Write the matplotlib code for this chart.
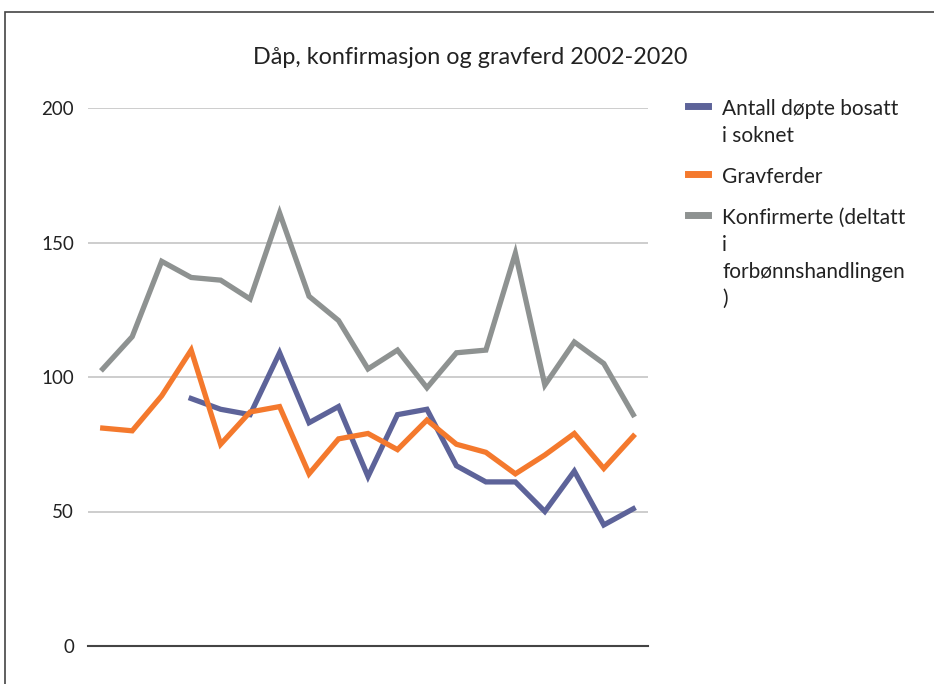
import matplotlib
matplotlib.use("Agg")
import matplotlib.pyplot as plt
from matplotlib.patches import Rectangle

# ==========================================
# DATA
# ==========================================
years = list(range(2002, 2021))

dopte = [None, None, None, 92, 88, 86, 109, 83, 89, 63,
         86, 88, 67, 61, 61, 50, 65, 45, 51]
gravferder = [81, 80, 93, 110, 75, 87, 89, 64, 77, 79,
              73, 84, 75, 72, 64, 71, 79, 66, 78]
konfirmerte = [103, 115, 143, 137, 136, 129, 161, 130, 121, 103,
               110, 96, 109, 110, 146, 97, 113, 105, 86]

labels = ["Antall døpte bosatt\ni soknet",
          "Gravferder",
          "Konfirmerte (deltatt\ni\nforbønnshandlingen\n)"]
yticks = [0, 50, 100, 150, 200]
title = "Dåp, konfirmasjon og gravferd 2002-2020"

# ==========================================
# PLOT
# ==========================================
plt.rcParams['font.family'] = ['Lato', 'DejaVu Sans']

fig = plt.figure(figsize=(9.34, 6.84), dpi=100)
ax = fig.add_axes([88 / 934, 1 - 646 / 684, 560 / 934, 538 / 684])

x = list(range(len(years)))
d_x = [i for i, v in zip(x, dopte) if v is not None]
d_y = [v for v in dopte if v is not None]

ax.plot(d_x, d_y, color='#5d6399', lw=3.8, label=labels[0], solid_joinstyle='miter')
ax.plot(x, gravferder, color='#f4792d', lw=3.8, label=labels[1], solid_joinstyle='miter')
ax.plot(x, konfirmerte, color='#8e9291', lw=3.8, label=labels[2], solid_joinstyle='miter')

ax.set_xlim(-0.5, len(years) - 0.5)
ax.set_ylim(0, 200)
ax.set_yticks(yticks)
ax.set_xticks([])
ax.tick_params(axis='y', length=0, pad=10, labelsize=13.5, colors='#222222')
for s in ['top', 'right', 'left']:
    ax.spines[s].set_visible(False)
ax.spines['bottom'].set_color('#444444')
ax.spines['bottom'].set_linewidth(1.5)
ax.grid(axis='y', color='#c9c9c9', lw=1.3)
ax.set_axisbelow(True)

fig.text(0.504, 1 - 57 / 684, title, ha='center', va='center', fontsize=16.8, color='#222222')

leg = fig.legend(loc='upper left', bbox_to_anchor=(669 / 934, 1 - 80 / 684),
                 frameon=False, fontsize=15, handlelength=0.95, handletextpad=0.7,
                 labelspacing=1.0)
for t in leg.get_texts():
    t.set_color('#222222')
    t.set_linespacing(1.45)
for h in leg.get_lines():
    h.set_linewidth(5)
# put each legend key next to the first line of its label
for col in leg._legend_handle_box.get_children():
    for row in col.get_children():
        row.align = 'top'

# chart border (only top and left visible, as in the cropped reference)
fig.add_artist(Rectangle((5 / 934, -1), 2, 2 - 12 / 684, transform=fig.transFigure,
                         fill=False, ec='#444444', lw=1.2, clip_on=False))

plt.savefig('out.png', dpi=100)
